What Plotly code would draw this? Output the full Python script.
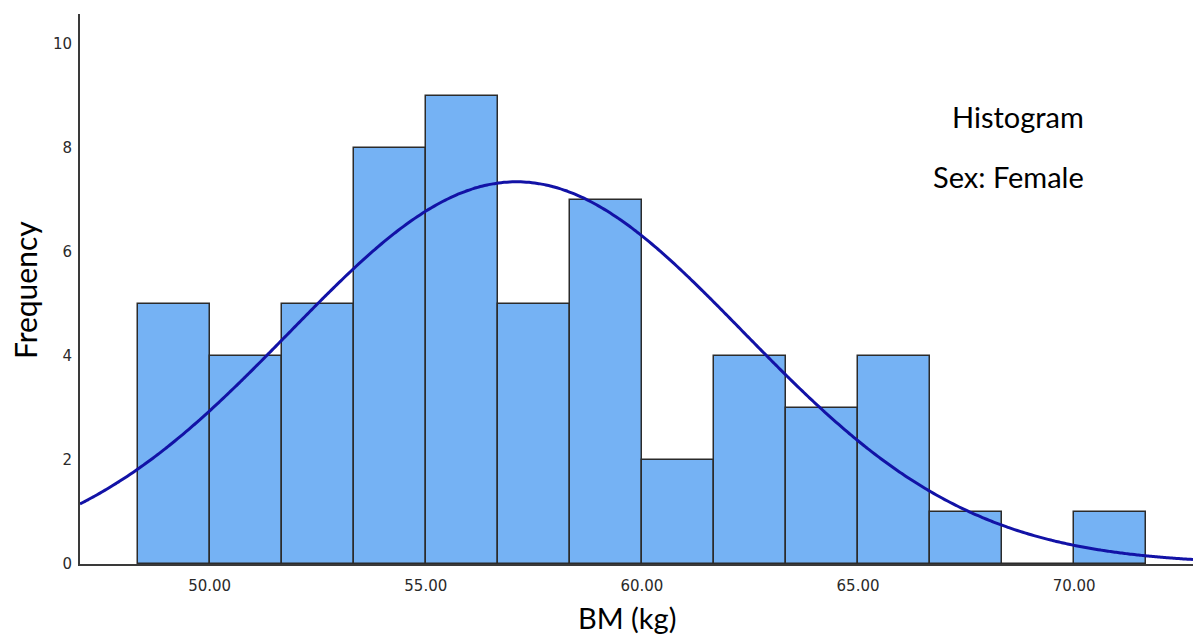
import numpy as np
import plotly.graph_objects as go

# Histogram data (BM in kg, females)
bin_start = 48.3333
bin_width = 5 / 3
counts = [5, 4, 5, 8, 9, 5, 7, 2, 4, 3, 4, 1, 0, 1]

# Normal curve parameters (SPSS overlay)
fit_mean = 57.1
fit_sd = 5.25
n_total = sum(counts)

x_ticks = [50, 55, 60, 65, 70]
x_tick_labels = ["50.00", "55.00", "60.00", "65.00", "70.00"]
y_ticks = [0, 2, 4, 6, 8, 10]

centers = [bin_start + bin_width * (i + 0.5) for i in range(len(counts))]

xr = [47.0, 72.75]
xs = np.linspace(xr[0], xr[1], 400)
ys = n_total * bin_width / (fit_sd * np.sqrt(2 * np.pi)) * np.exp(-0.5 * ((xs - fit_mean) / fit_sd) ** 2)

fig = go.Figure()
fig.add_trace(go.Bar(
    x=centers, y=counts, width=bin_width,
    marker=dict(color="#75B2F4", line=dict(color="#2b2b2b", width=1.5)),
    hoverinfo="x+y", showlegend=False,
))
fig.add_trace(go.Scatter(
    x=xs, y=ys, mode="lines",
    line=dict(color="#1212A6", width=3, shape="spline"),
    showlegend=False, hoverinfo="skip",
))

PW, PH = 1193, 637
L, T, R, B = 80, 14, 0, 73
plot_w = PW - L - R
plot_h = PH - T - B


def px(xpage):
    return (xpage - L) / plot_w


def py(ypage):
    return (PH - B - ypage) / plot_h


fig.update_layout(
    width=PW, height=PH,
    margin=dict(l=L, r=R, t=T, b=B),
    paper_bgcolor="white", plot_bgcolor="white",
    bargap=0,
    font=dict(family="Lato, 'Open Sans', sans-serif", color="#000"),
    xaxis=dict(
        range=xr, showgrid=False, zeroline=False,
        showline=True, linecolor="#3a3a3a", linewidth=2,
        tickmode="array", tickvals=x_ticks, ticktext=x_tick_labels,
        ticks="outside", ticklen=7, tickcolor="rgba(0,0,0,0)",
        tickfont=dict(family="DejaVu Sans, sans-serif", size=15, color="#2a2a2a"),
    ),
    yaxis=dict(
        range=[0, 10.57], showgrid=False, zeroline=False,
        showline=True, linecolor="#3a3a3a", linewidth=2,
        tickmode="array", tickvals=y_ticks,
        ticks="outside", ticklen=3, tickcolor="rgba(0,0,0,0)",
        tickfont=dict(family="DejaVu Sans, sans-serif", size=15, color="#2a2a2a"),
    ),
    annotations=[
        dict(text="Histogram", xref="paper", yref="paper", x=px(1086), y=py(117),
             xanchor="right", yanchor="middle", showarrow=False,
             font=dict(family="Lato, sans-serif", size=29, color="#000")),
        dict(text="Sex: Female", xref="paper", yref="paper", x=px(1086), y=py(176),
             xanchor="right", yanchor="middle", showarrow=False,
             font=dict(family="Lato, sans-serif", size=29, color="#000")),
        dict(text="Frequency", xref="paper", yref="paper", x=px(25), y=py(290),
             xanchor="center", yanchor="middle", textangle=-90, showarrow=False,
             font=dict(family="Lato, sans-serif", size=30, color="#000")),
        dict(text="BM (kg)", xref="paper", yref="paper", x=px(627), y=py(617),
             xanchor="center", yanchor="middle", showarrow=False,
             font=dict(family="Lato, sans-serif", size=29, color="#000")),
    ],
)

fig.write_html(
    "out.html",
    config={"displayModeBar": False},
    post_script="document.body.style.margin='0';document.body.style.overflow='hidden';",
)
